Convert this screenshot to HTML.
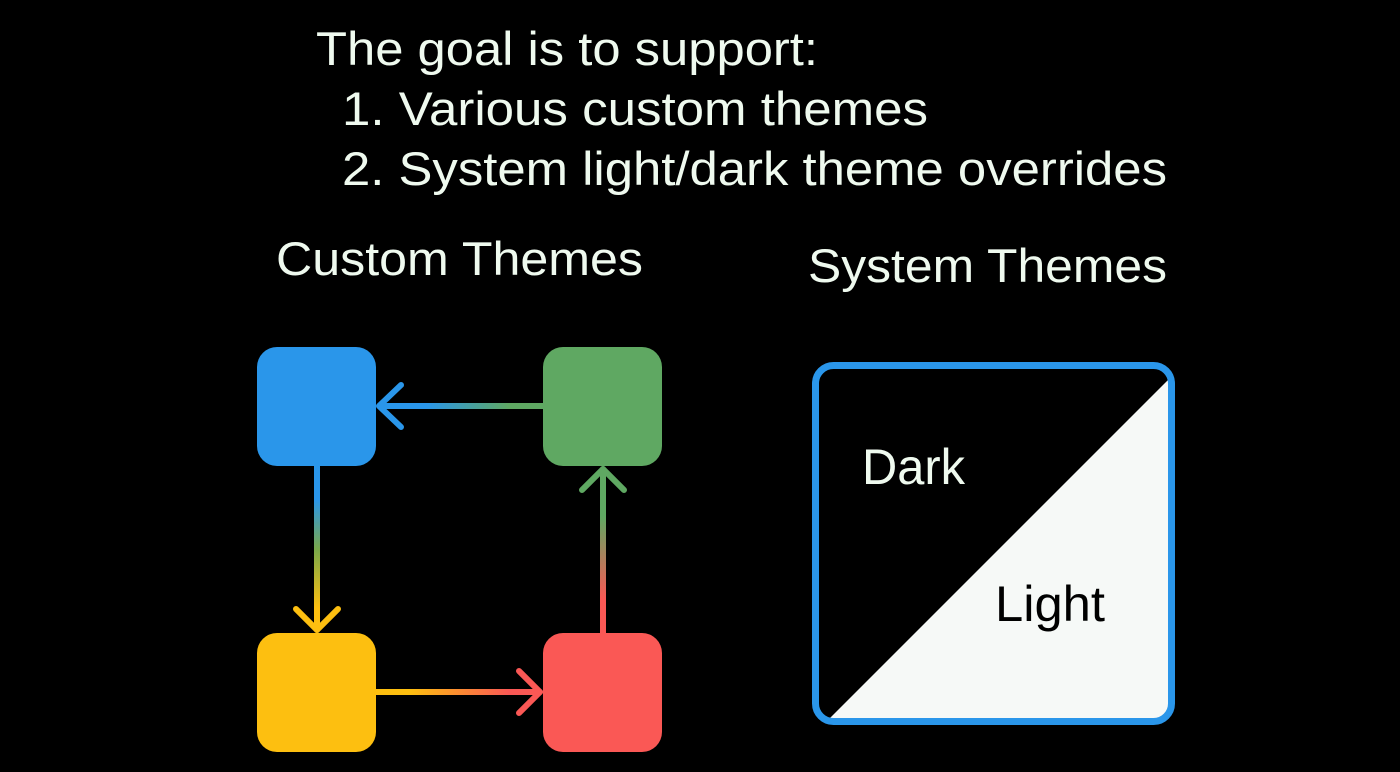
<!DOCTYPE html>
<html><head><style>
html,body{margin:0;padding:0;background:#000;}
svg{display:block;}
text{font-family:"Liberation Sans",sans-serif;}
</style></head><body>
<svg width="1400" height="772" viewBox="0 0 1400 772" xmlns="http://www.w3.org/2000/svg">
<defs>
<linearGradient id="gTop" x1="376" y1="0" x2="543" y2="0" gradientUnits="userSpaceOnUse"><stop offset="0.3" stop-color="#2a96ea"/><stop offset="0.8" stop-color="#5fa862"/></linearGradient>
<linearGradient id="gLeft" x1="0" y1="466" x2="0" y2="633" gradientUnits="userSpaceOnUse"><stop offset="0.2" stop-color="#2a96ea"/><stop offset="0.5" stop-color="#7aa84a"/><stop offset="0.85" stop-color="#fdbf10"/></linearGradient>
<linearGradient id="gBot" x1="376" y1="0" x2="543" y2="0" gradientUnits="userSpaceOnUse"><stop offset="0.2" stop-color="#fdbf10"/><stop offset="0.8" stop-color="#fa5855"/></linearGradient>
<linearGradient id="gRight" x1="0" y1="633" x2="0" y2="466" gradientUnits="userSpaceOnUse"><stop offset="0.2" stop-color="#fa5855"/><stop offset="0.7" stop-color="#5fa862"/></linearGradient>
</defs>
<rect x="0" y="0" width="1400" height="772" rx="40" fill="#000"/>
<g fill="#effaef" font-size="47">
<text x="316" y="65" textLength="502" lengthAdjust="spacingAndGlyphs">The goal is to support:</text>
<text x="342" y="125" textLength="586" lengthAdjust="spacingAndGlyphs">1. Various custom themes</text>
<text x="342" y="185" textLength="825" lengthAdjust="spacingAndGlyphs">2. System light/dark theme overrides</text>
<text x="276" y="275" textLength="367" lengthAdjust="spacingAndGlyphs">Custom Themes</text>
<text x="808" y="282" textLength="359" lengthAdjust="spacingAndGlyphs">System Themes</text>
</g>
<g stroke-width="6" stroke-linecap="round" fill="none" stroke-linejoin="round">
<line x1="543" y1="406" x2="380" y2="406" stroke="url(#gTop)"/>
<polyline points="401,385 379,406 401,427" stroke="#2a96ea"/>
<line x1="317" y1="466" x2="317" y2="630" stroke="url(#gLeft)"/>
<polyline points="296,609 317,630 338,609" stroke="#fdbf10"/>
<line x1="376" y1="692" x2="540" y2="692" stroke="url(#gBot)"/>
<polyline points="519,671 540,692 519,713" stroke="#fa5855"/>
<line x1="603" y1="633" x2="603" y2="469" stroke="url(#gRight)"/>
<polyline points="582,490 603,469 624,490" stroke="#5fa862"/>
</g>
<rect x="257" y="347" width="119" height="119" rx="20" fill="#2a96ea"/>
<rect x="543" y="347" width="119" height="119" rx="20" fill="#5fa862"/>
<rect x="257" y="633" width="119" height="119" rx="20" fill="#fdbf10"/>
<rect x="543" y="633" width="119" height="119" rx="20" fill="#fa5855"/>
<clipPath id="c"><rect x="815" y="365" width="357" height="357" rx="18"/></clipPath>
<g clip-path="url(#c)">
<rect x="815" y="365" width="357" height="357" fill="#000"/>
<polygon points="826,722 1172,376 1172,722" fill="#f6f9f7"/>
</g>
<rect x="815.5" y="365.5" width="356" height="356" rx="18" fill="none" stroke="#2a96ea" stroke-width="7"/>
<text x="862" y="484" font-size="50" fill="#effaef" textLength="103" lengthAdjust="spacingAndGlyphs">Dark</text>
<text x="995" y="621" font-size="50" fill="#000" textLength="110" lengthAdjust="spacingAndGlyphs">Light</text>
</svg>
</body></html>
